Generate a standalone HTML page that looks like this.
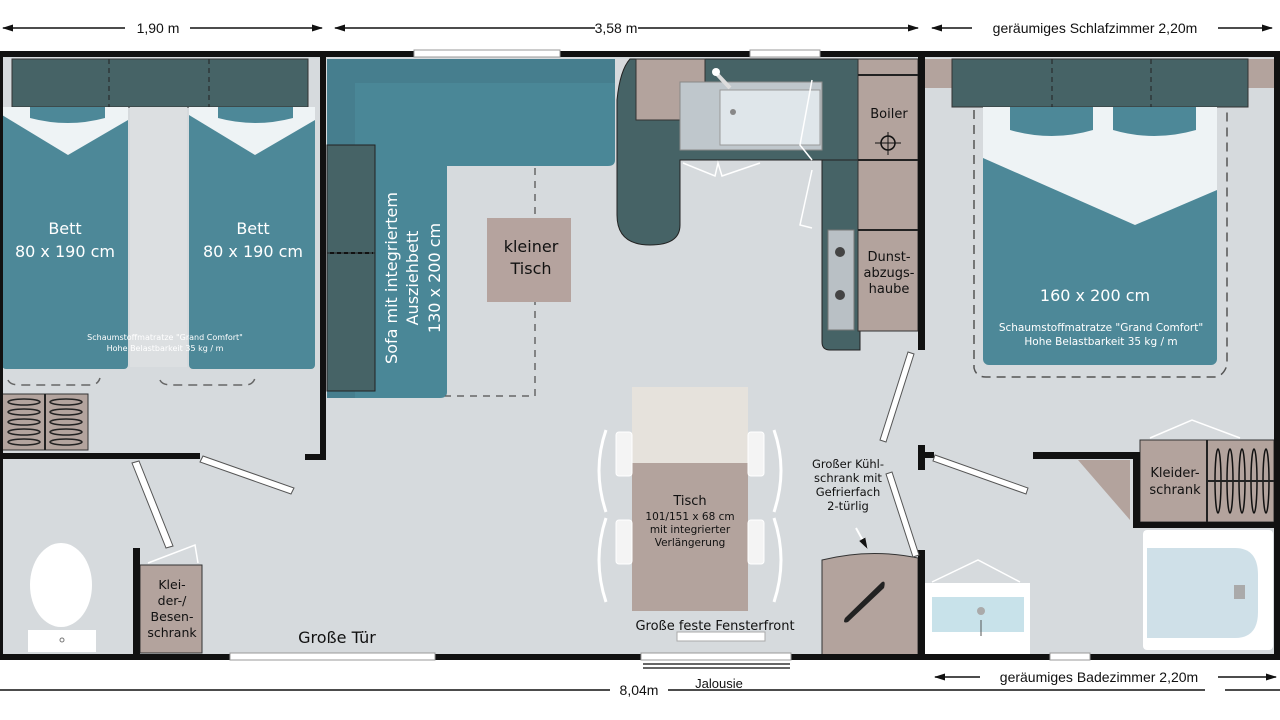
<!DOCTYPE html>
<html><head><meta charset="utf-8"><style>
html,body{margin:0;padding:0;background:#fff;}
svg{display:block;font-family:"Liberation Sans",sans-serif;}
</style></head><body>
<svg width="1280" height="720" viewBox="0 0 1280 720" xmlns="http://www.w3.org/2000/svg">
<defs>
<marker id="ar" markerUnits="userSpaceOnUse" markerWidth="11" markerHeight="7" refX="10" refY="3.5" orient="auto-start-reverse"><path d="M0,0 L11,3.5 L0,7z" fill="#111"/></marker>
</defs>
<!-- dimension lines top -->
<g stroke="#111" stroke-width="1.5" fill="none">
<line x1="3" y1="28" x2="125" y2="28" marker-start="url(#ar)"/>
<line x1="190" y1="28" x2="322" y2="28" marker-end="url(#ar)"/>
<line x1="335" y1="28" x2="595" y2="28" marker-start="url(#ar)"/>
<line x1="638" y1="28" x2="918" y2="28" marker-end="url(#ar)"/>
<line x1="932" y1="28" x2="972" y2="28" marker-start="url(#ar)"/>
<line x1="1218" y1="28" x2="1272" y2="28" marker-end="url(#ar)"/>
<line x1="0" y1="690" x2="610" y2="690"/>
<line x1="668" y1="690" x2="1205" y2="690"/>
<line x1="1225" y1="690" x2="1280" y2="690"/>
<line x1="935" y1="677" x2="980" y2="677" marker-start="url(#ar)"/>
<line x1="1218" y1="677" x2="1276" y2="677" marker-end="url(#ar)"/>
</g>
<g font-size="14" fill="#111" text-anchor="middle">
<text x="158" y="33">1,90 m</text>
<text x="616" y="33">3,58 m</text>
<text x="1095" y="33">geräumiges Schlafzimmer 2,20m</text>
<text x="639" y="695">8,04m</text>
<text x="719" y="688" font-size="13">Jalousie</text>
<text x="1099" y="682">geräumiges Badezimmer 2,20m</text>
</g>
<!-- floor -->
<rect x="0" y="55" width="1280" height="602" fill="#d6dadd"/>
<!-- left bedroom -->
<rect x="12" y="59" width="296" height="48" fill="#466366" stroke="#333" stroke-width="1"/>
<line x1="109" y1="59" x2="109" y2="107" stroke="#222" stroke-dasharray="5,4"/>
<line x1="209" y1="59" x2="209" y2="107" stroke="#222" stroke-dasharray="5,4"/>
<rect x="130" y="107" width="57" height="260" fill="#dcdfe1"/>
<g fill="#4d8898">
<rect x="2" y="107" width="126" height="262" rx="4"/>
<rect x="189" y="107" width="126" height="262" rx="4"/>
</g>
<g fill="#eef3f5">
<path d="M2,107 H128 V120 L68,155 L2,115z"/>
<path d="M189,107 H315 V120 L255,155 L189,115z"/>
</g>
<g fill="#4d8898"><path d="M30,107 H105 V118 Q68,128 30,118z"/><path d="M218,107 H293 V118 Q255,128 218,118z"/></g>
<g fill="#fff" text-anchor="middle" font-family="DejaVu Sans,sans-serif">
<text x="65" y="234" font-size="16">Bett</text><text x="65" y="257" font-size="16">80 x 190 cm</text>
<text x="253" y="234" font-size="16">Bett</text><text x="253" y="257" font-size="16">80 x 190 cm</text>
<text x="165" y="340" font-size="8">Schaumstoffmatratze "Grand Comfort"</text>
<text x="165" y="351" font-size="8">Hohe Belastbarkeit 35 kg / m</text>
</g>
<g stroke="#666" stroke-dasharray="9,6" fill="none" stroke-width="1.5"><path d="M8,380 Q10,385 20,385 H90 Q98,385 100,378"/><path d="M160,380 Q162,385 172,385 H245 Q253,385 255,378"/></g>
<rect x="2" y="394" width="86" height="56" fill="#b3a49e" stroke="#333"/>
<line x1="45" y1="394" x2="45" y2="450" stroke="#222" stroke-width="2"/>
<g fill="none" stroke="#222" stroke-width="1.5">
<ellipse cx="24" cy="402" rx="16" ry="3"/><ellipse cx="24" cy="412" rx="16" ry="3"/><ellipse cx="24" cy="422" rx="16" ry="3"/><ellipse cx="24" cy="432" rx="16" ry="3"/><ellipse cx="24" cy="442" rx="16" ry="3"/>
<ellipse cx="66" cy="402" rx="16" ry="3"/><ellipse cx="66" cy="412" rx="16" ry="3"/><ellipse cx="66" cy="422" rx="16" ry="3"/><ellipse cx="66" cy="432" rx="16" ry="3"/><ellipse cx="66" cy="442" rx="16" ry="3"/>
</g>
<!-- sofa -->
<path d="M327,59 H615 V160 Q615,166 608,166 H447 V392 Q447,398 440,398 H327z" fill="#4a8797"/>
<path d="M327,59 H615 V83 H355 V398 H327z" fill="#467e8e"/>
<rect x="327" y="145" width="48" height="176" fill="#466366" stroke="#222"/>
<rect x="327" y="253" width="48" height="138" fill="#466366" stroke="#222"/>
<line x1="330" y1="253" x2="373" y2="253" stroke="#111" stroke-width="2" stroke-dasharray="4,3"/>
<g fill="#fff" font-family="DejaVu Sans,sans-serif" font-size="16" text-anchor="middle">
<text transform="translate(397,278) rotate(-90)">Sofa mit integriertem</text>
<text transform="translate(418,278) rotate(-90)">Ausziehbett</text>
<text transform="translate(440,278) rotate(-90)">130 x 200 cm</text>
</g>
<path d="M535,168 V396 H445" stroke="#666" stroke-width="1.5" stroke-dasharray="7,6" fill="none"/>
<rect x="487" y="218" width="84" height="84" fill="#b5a39e"/>
<g font-family="DejaVu Sans,sans-serif" font-size="16" text-anchor="middle" fill="#111"><text x="531" y="252">kleiner</text><text x="531" y="274">Tisch</text></g>
<!-- kitchen -->
<path d="M630,59 H860 V160 H680 V225 Q680,245 650,245 Q617,245 617,215 V100 Q620,70 630,59z" fill="#466366" stroke="#222"/>
<path d="M822,160 H860 V350 H830 Q822,350 822,342z" fill="#466366" stroke="#222"/>
<rect x="636" y="59" width="69" height="61" fill="#b3a39d" stroke="#333"/>
<rect x="680" y="82" width="142" height="68" fill="#bfc7cc" stroke="#888"/>
<rect x="720" y="90" width="100" height="55" fill="#dfe6ea" stroke="#999"/>
<circle cx="733" cy="112" r="3" fill="#888"/>
<line x1="716" y1="73" x2="730" y2="88" stroke="#ddd" stroke-width="4"/><circle cx="716" cy="72" r="4" fill="#fff"/>
<rect x="828" y="230" width="26" height="100" fill="#b9c0c5" stroke="#777"/>
<circle cx="840" cy="252" r="5" fill="#444"/><circle cx="840" cy="295" r="5" fill="#444"/>
<rect x="858" y="59" width="60" height="272" fill="#b3a39d" stroke="#333"/>
<line x1="858" y1="75" x2="918" y2="75" stroke="#222" stroke-width="2"/>
<line x1="858" y1="160" x2="918" y2="160" stroke="#222" stroke-width="2"/>
<line x1="858" y1="230" x2="918" y2="230" stroke="#222" stroke-width="2"/>
<g font-family="DejaVu Sans,sans-serif" font-size="13" text-anchor="middle" fill="#111">
<text x="889" y="118">Boiler</text>
<text x="889" y="261">Dunst-</text><text x="889" y="277">abzugs-</text><text x="889" y="293">haube</text>
</g>
<circle cx="888" cy="143" r="7" fill="none" stroke="#111" stroke-width="1.5"/><line x1="875" y1="143" x2="901" y2="143" stroke="#111"/><line x1="888" y1="132" x2="888" y2="155" stroke="#111"/>
<g stroke="#fff" stroke-width="1.5" fill="none"><path d="M683,163 L715,176 L718,163 L722,176 L760,163"/><path d="M812,80 L800,145 L812,160"/><path d="M812,170 L800,225 L812,228"/></g>
<!-- right bedroom -->
<rect x="925" y="59" width="28" height="29" fill="#b3a39d"/><rect x="1248" y="59" width="26" height="29" fill="#b3a39d"/>
<rect x="952" y="59" width="296" height="48" fill="#466366" stroke="#333"/>
<line x1="1052" y1="59" x2="1052" y2="107" stroke="#222" stroke-dasharray="5,4"/><line x1="1151" y1="59" x2="1151" y2="107" stroke="#222" stroke-dasharray="5,4"/>
<rect x="983" y="107" width="234" height="258" rx="6" fill="#4d8898"/>
<path d="M983,107 H1217 V190 L1135,225 L983,158z" fill="#eef3f5"/>
<path d="M1010,107 H1093 V130 Q1052,142 1010,130z M1113,107 H1196 V130 Q1154,142 1113,130z" fill="#4d8898"/>
<path d="M974,110 V368 Q976,377 986,377 H1216 Q1224,375 1227,365 V110" stroke="#555" stroke-width="1.5" stroke-dasharray="9,6" fill="none"/>
<g fill="#fff" text-anchor="middle" font-family="DejaVu Sans,sans-serif">
<text x="1095" y="301" font-size="16">160 x 200 cm</text>
<text x="1101" y="331" font-size="10.5">Schaumstoffmatratze "Grand Comfort"</text>
<text x="1101" y="345" font-size="10.5">Hohe Belastbarkeit 35 kg / m</text>
</g>
<!-- kleiderschrank right -->
<rect x="1140" y="440" width="134" height="82" fill="#b3a39d" stroke="#333"/>
<line x1="1207" y1="440" x2="1207" y2="522" stroke="#222" stroke-width="2"/>
<g fill="none" stroke="#111" stroke-width="1.5"><ellipse cx="1218" cy="481" rx="3" ry="32"/><ellipse cx="1230" cy="481" rx="3" ry="32"/><ellipse cx="1242" cy="481" rx="3" ry="32"/><ellipse cx="1254" cy="481" rx="3" ry="32"/><ellipse cx="1266" cy="481" rx="3" ry="32"/></g>
<line x1="1208" y1="481" x2="1274" y2="481" stroke="#222" stroke-width="2"/>
<path d="M1078,460 H1130 V520z" fill="#b3a39d"/>
<g font-family="DejaVu Sans,sans-serif" font-size="13" text-anchor="middle" fill="#111"><text x="1175" y="477">Kleider-</text><text x="1175" y="494">schrank</text></g>
<path d="M1150,438 L1192,420 L1240,438" stroke="#fff" stroke-width="1.5" fill="none"/>
<!-- bathroom -->
<rect x="1143" y="530" width="130" height="120" rx="4" fill="#fff"/>
<path d="M1147,548 H1235 Q1258,548 1258,575 V612 Q1258,638 1235,638 H1147z" fill="#cfe0e8"/>
<rect x="1234" y="585" width="11" height="14" fill="#aaa"/>
<rect x="925" y="583" width="105" height="72" fill="#fff"/>
<rect x="932" y="597" width="92" height="35" fill="#c8e2ea"/>
<circle cx="981" cy="611" r="4" fill="#aaa"/><line x1="981" y1="620" x2="981" y2="636" stroke="#555"/>
<path d="M932,582 L978,560 L1020,582" stroke="#fff" stroke-width="1.5" fill="none"/>
<path d="M822,560 Q870,548 918,558 V657 H822z" fill="#b3a39d" stroke="#333"/>
<path d="M845,618 L882,582 Q886,580 884,588 L848,622 Q842,624 845,618z" fill="#222"/>
<!-- left toilet area -->
<ellipse cx="61" cy="585" rx="31" ry="42" fill="#fff"/>
<rect x="28" y="630" width="68" height="22" fill="#fff"/><circle cx="62" cy="640" r="2" fill="none" stroke="#777"/>
<rect x="140" y="565" width="62" height="88" fill="#b3a39d" stroke="#333"/>
<g font-family="DejaVu Sans,sans-serif" font-size="12.5" text-anchor="middle" fill="#111"><text x="172" y="589">Klei-</text><text x="172" y="605">der-/</text><text x="172" y="621">Besen-</text><text x="172" y="637">schrank</text></g>
<path d="M148,563 L195,545 L198,563" stroke="#fff" stroke-width="1.5" fill="none"/>
<!-- dining table -->
<rect x="632" y="387" width="116" height="76" fill="#e6e2dc"/>
<rect x="632" y="463" width="116" height="148" fill="#b3a39d"/>
<g fill="#f4f4f4" stroke="#fff"><rect x="616" y="432" width="16" height="44" rx="3"/><rect x="616" y="520" width="16" height="44" rx="3"/><rect x="748" y="432" width="16" height="44" rx="3"/><rect x="748" y="520" width="16" height="44" rx="3"/></g>
<g stroke="#fff" stroke-width="3" fill="none"><path d="M606,430 Q592,470 606,512"/><path d="M606,518 Q592,560 606,602"/><path d="M774,430 Q788,470 774,512"/><path d="M774,518 Q788,560 774,602"/></g>
<g font-family="DejaVu Sans,sans-serif" text-anchor="middle" fill="#111"><text x="690" y="505" font-size="13">Tisch</text><text x="690" y="520" font-size="10.5">101/151 x 68 cm</text><text x="690" y="533" font-size="10.5">mit integrierter</text><text x="690" y="546" font-size="10.5">Verlängerung</text>
<text x="715" y="630" font-size="13">Große feste Fensterfront</text>
<text x="337" y="643" font-size="16">Große Tür</text>
<text x="848" y="468" font-size="11.5">Großer Kühl-</text><text x="848" y="482" font-size="11.5">schrank mit</text><text x="848" y="496" font-size="11.5">Gefrierfach</text><text x="848" y="510" font-size="11.5">2-türlig</text></g>
<line x1="856" y1="528" x2="867" y2="548" stroke="#fff" stroke-width="2" marker-end="url(#ar)"/>
<rect x="677" y="632" width="88" height="9" fill="#fff" stroke="#aaa"/>
<!-- walls -->
<g fill="#111">
<rect x="0" y="51" width="1280" height="6"/>
<rect x="0" y="654" width="1280" height="6"/>
<rect x="0" y="51" width="3" height="609"/>
<rect x="1274" y="51" width="6" height="609"/>
<rect x="320" y="55" width="6" height="405"/>
<rect x="305" y="454" width="21" height="6"/>
<rect x="0" y="453" width="200" height="6"/>
<rect x="133" y="548" width="7" height="109"/>
<rect x="918" y="55" width="7" height="295"/>
<rect x="918" y="445" width="7" height="25"/><rect x="918" y="452" width="16" height="6"/>
<rect x="918" y="550" width="7" height="107"/>
<rect x="1033" y="452" width="107" height="7"/>
<rect x="1133" y="452" width="7" height="76"/>
<rect x="1133" y="522" width="147" height="6"/>
</g>
<!-- windows/doors -->
<g fill="#fff" stroke="#999">
<rect x="414" y="50" width="146" height="7"/><rect x="750" y="50" width="70" height="7"/>
<rect x="230" y="653" width="205" height="7"/><rect x="1050" y="653" width="40" height="7"/>
<rect x="641" y="653" width="150" height="7"/>
</g>
<g stroke="#333" stroke-width="1.5"><line x1="643" y1="664" x2="790" y2="664"/><line x1="643" y1="668" x2="790" y2="668"/></g>
<g fill="#fff" stroke="#555" stroke-width="1">
<polygon points="203,456 294,488 291,494 200,462"/>
<polygon points="132,463 139,461 173,546 166,548"/>
<polygon points="908,352 914,354 886,442 880,440"/>
<polygon points="935,455 1028,488 1026,494 933,461"/>
<polygon points="886,474 892,472 919,555 913,557"/>
</g>
</svg>
</body></html>
